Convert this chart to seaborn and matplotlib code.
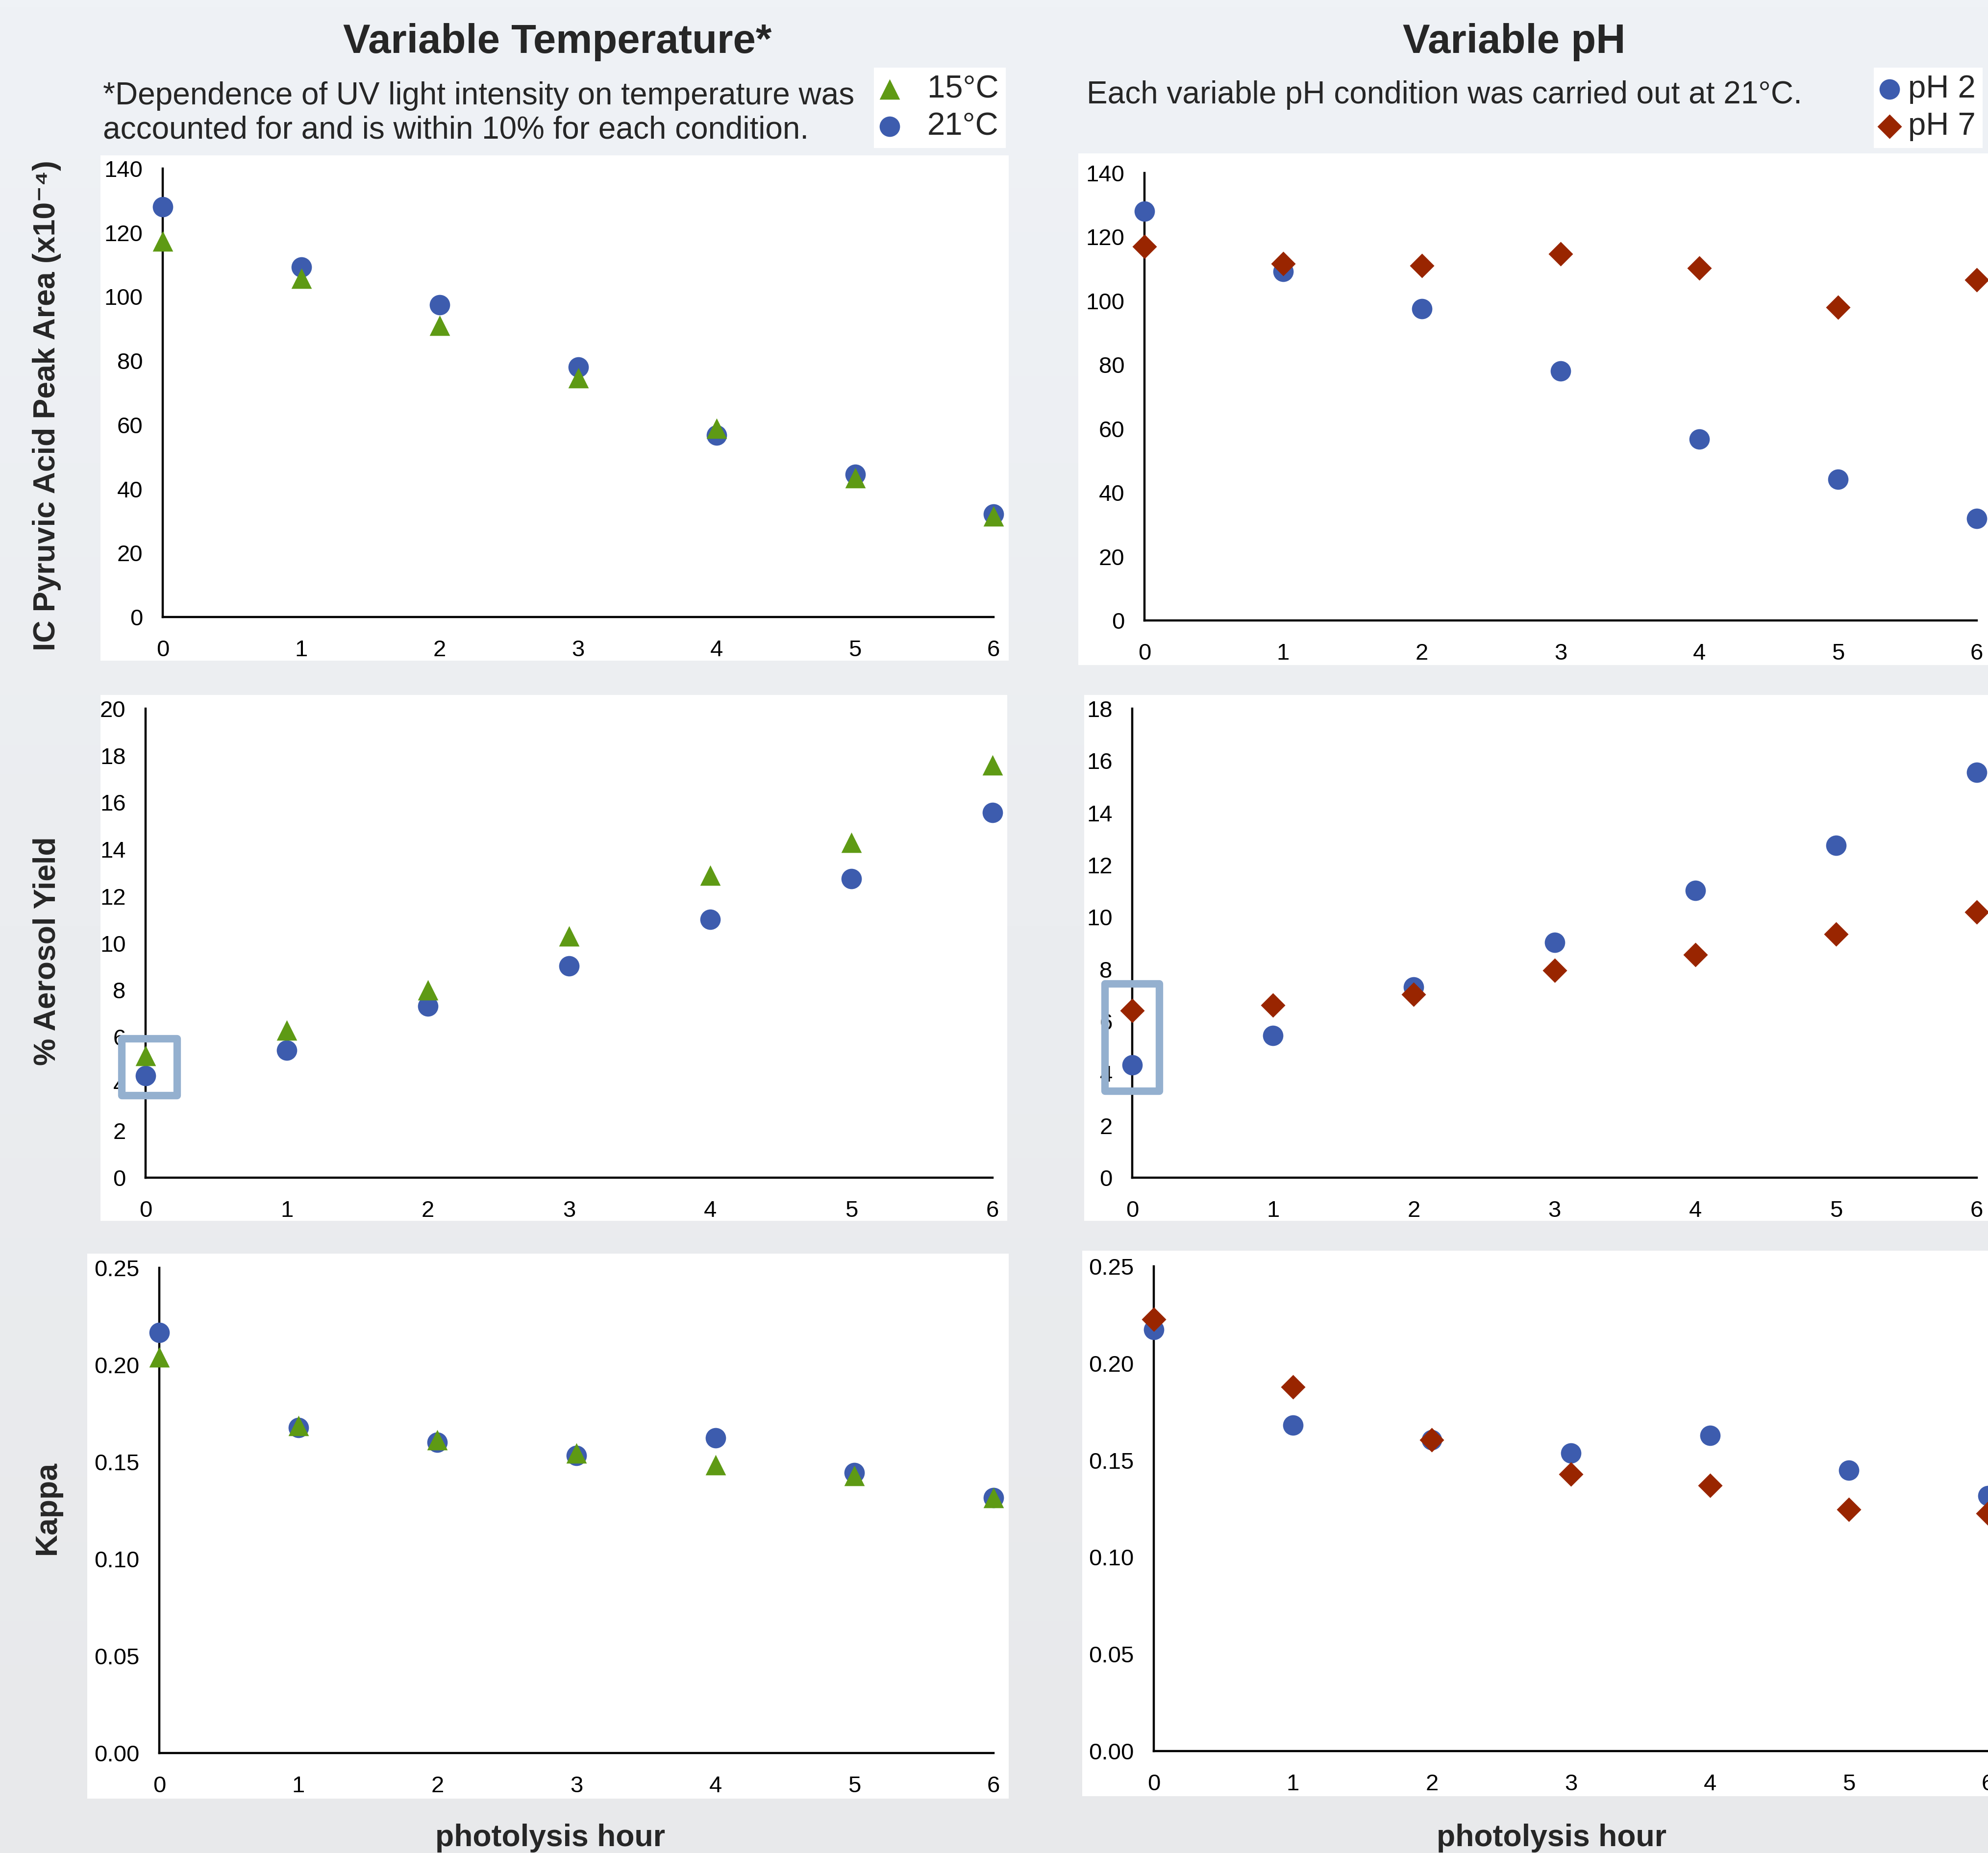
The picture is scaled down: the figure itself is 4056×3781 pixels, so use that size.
import numpy as np
import pandas as pd
import matplotlib.pyplot as plt
import seaborn as sns
from matplotlib.patches import Rectangle
from matplotlib.ticker import FormatStrFormatter, MultipleLocator

# photolysis hours
hours = [0, 1, 2, 3, 4, 5, 6]

# IC pyruvic acid peak area (x10^-4)
pa_15C = [117.4, 105.8, 91.0, 74.7, 58.9, 43.4, 31.5]
pa_21C = [128.0, 109.3, 97.5, 78.0, 56.8, 44.5, 32.2]
pa_pH2 = [128.0, 109.2, 97.6, 78.0, 56.8, 44.2, 31.9]
pa_pH7 = [117.0, 111.7, 111.0, 114.7, 110.3, 98.0, 106.5]

# % aerosol yield
ay_15C = [5.2, 6.3, 8.0, 10.3, 12.9, 14.3, 17.6]
ay_21C = [4.34, 5.44, 7.31, 9.03, 11.02, 12.75, 15.56]
ay_pH2 = [4.32, 5.45, 7.31, 9.03, 11.02, 12.76, 15.55]
ay_pH7 = [6.41, 6.62, 7.03, 7.96, 8.55, 9.34, 10.2]

# kappa
k_15C = [0.204, 0.1688, 0.1613, 0.1546, 0.1486, 0.1429, 0.1315]
k_21C = [0.2167, 0.1677, 0.1601, 0.1532, 0.1625, 0.1444, 0.1315]
k_pH2 = [0.2173, 0.168, 0.1604, 0.1536, 0.1628, 0.1449, 0.1316]
k_pH7 = [0.2228, 0.1879, 0.1604, 0.1427, 0.137, 0.1245, 0.1225]

# highlighted t=0 region in the yield panels (x0, x1, y0, y1)
box_temp = (-0.17, 0.222, 3.51, 5.94)
box_ph = (-0.195, 0.192, 3.33, 7.45)

BLUE = "#3D5CAE"
GREEN = "#5E9A14"
RED = "#992500"

sns.set_theme(style="white")
plt.rcParams["font.family"] = ["Liberation Sans", "DejaVu Sans"]

W, H = 4056, 3781
fig = plt.figure(figsize=(W / 100, H / 100), dpi=100)


def fx(x):
    return x / W


def fy(y):
    return 1 - y / H


# light background
bg = fig.add_axes([0, 0, 1, 1], zorder=-10)
grad = np.linspace(0, 1, 256).reshape(-1, 1)
bg.imshow(grad, aspect="auto", extent=[0, 1, 0, 1],
          cmap=sns.blend_palette(["#EFF2F6", "#EBEDF0", "#E8E9EB"], as_cmap=True))
bg.axis("off")

# white panels behind each plot (pixel boxes)
panels = [(205, 2058, 317, 1348), (2200, 4056, 313, 1357),
          (205, 2055, 1418, 2491), (2212, 4056, 1418, 2491),
          (178, 2058, 2558, 3670), (2208, 4056, 2552, 3665)]
for x0, x1, y0, y1 in panels:
    fig.patches.append(Rectangle((fx(x0), fy(y1)), fx(x1 - x0), (y1 - y0) / H,
                                 transform=fig.transFigure, facecolor="white",
                                 edgecolor="none", zorder=-5))

# axes boxes: x of hour 0, x of hour 6, y of top, y of zero
ax_px = [(332, 2027, 344, 1259), (2335, 4033, 353, 1266),
         (297, 2025, 1446, 2403), (2310, 4033, 1446, 2403),
         (325, 2027, 2587, 3577), (2354, 4056, 2584, 3573)]
axes = []
for x0, x1, y0, y1 in ax_px:
    ax = fig.add_axes([fx(x0), fy(y1), fx(x1 - x0), (y1 - y0) / H])
    ax.set_facecolor("none")
    axes.append(ax)

series = [
    (axes[0], [(pa_21C, "o", BLUE, "21°C"), (pa_15C, "^", GREEN, "15°C")], 140, 20, "%d"),
    (axes[1], [(pa_pH2, "o", BLUE, "pH 2"), (pa_pH7, "D", RED, "pH 7")], 140, 20, "%d"),
    (axes[2], [(ay_21C, "o", BLUE, "21°C"), (ay_15C, "^", GREEN, "15°C")], 20, 2, "%d"),
    (axes[3], [(ay_pH2, "o", BLUE, "pH 2"), (ay_pH7, "D", RED, "pH 7")], 18, 2, "%d"),
    (axes[4], [(k_21C, "o", BLUE, "21°C"), (k_15C, "^", GREEN, "15°C")], 0.25, 0.05, "%.2f"),
    (axes[5], [(k_pH2, "o", BLUE, "pH 2"), (k_pH7, "D", RED, "pH 7")], 0.25, 0.05, "%.2f"),
]
sizes = {"o": 900, "^": 900, "D": 650}

for ax, sets, ytop, ystep, fmt in series:
    for vals, mk, col, lab in sets:
        df = pd.DataFrame({"hour": hours, "value": vals})
        sns.scatterplot(data=df, x="hour", y="value", marker=mk, s=sizes[mk],
                        color=col, linewidth=0, ax=ax, clip_on=False,
                        label=lab, legend=False, zorder=3)
    ax.set_xlim(0, 6)
    ax.set_ylim(0, ytop)
    ax.xaxis.set_major_locator(MultipleLocator(1))
    ax.yaxis.set_major_locator(MultipleLocator(ystep))
    ax.yaxis.set_major_formatter(FormatStrFormatter(fmt))
    ax.set_xlabel("")
    ax.set_ylabel("")
    for side in ["top", "right"]:
        ax.spines[side].set_visible(False)
    for side in ["left", "bottom"]:
        ax.spines[side].set_color("black")
        ax.spines[side].set_linewidth(3.2)
    ax.tick_params(axis="y", length=0, pad=29, labelsize=34, colors="black")
    ax.tick_params(axis="x", length=0, pad=33, labelsize=34, colors="black")

# highlight boxes at t = 0 in the yield panels
for ax, (x0, x1, y0, y1) in [(axes[2], box_temp), (axes[3], box_ph)]:
    ax.add_patch(Rectangle((x0, y0), x1 - x0, y1 - y0, fill=False,
                           edgecolor="#94B0CF", linewidth=11, joinstyle="round",
                           clip_on=False, zorder=5))

# titles and notes
fig.text(fx(1137), fy(86), "Variable Temperature*", fontsize=60, fontweight="bold",
         ha="center", va="center")
fig.text(fx(3089), fy(86), "Variable pH", fontsize=60, fontweight="bold",
         ha="center", va="center")
fig.text(fx(210), fy(231), "*Dependence of UV light intensity on temperature was\n"
         "accounted for and is within 10% for each condition.",
         fontsize=46, ha="left", va="center", linespacing=1.2)
fig.text(fx(2217), fy(194), "Each variable pH condition was carried out at 21°C.",
         fontsize=46, ha="left", va="center")

# legends
leg_kw = dict(loc="upper left", fontsize=47, frameon=True, fancybox=False,
              framealpha=1, facecolor="white", edgecolor="none", borderpad=0.22,
              labelspacing=0.24, handlelength=0.55, borderaxespad=0)
h0, l0 = axes[0].get_legend_handles_labels()
fig.legend([h0[1], h0[0]], [l0[1], l0[0]], bbox_to_anchor=(fx(1783), fy(138)),
           handletextpad=0.9, **leg_kw)
h1, l1 = axes[1].get_legend_handles_labels()
fig.legend(h1, l1, bbox_to_anchor=(fx(3823), fy(138)), handletextpad=0.3, **leg_kw)

# axis titles
fig.text(fx(96), fy(828), "IC Pyruvic Acid Peak Area (x10⁻⁴)", fontsize=45,
         fontweight="bold", rotation=90, ha="center", va="center")
fig.text(fx(96), fy(1941), "% Aerosol Yield", fontsize=45, fontweight="bold",
         rotation=90, ha="center", va="center")
fig.text(fx(96), fy(3076), "Kappa", fontsize=45, fontweight="bold",
         rotation=90, ha="center", va="center")
fig.text(fx(1123), fy(3751), "photolysis hour", fontsize=45, fontweight="bold",
         ha="center", va="center")
fig.text(fx(3166), fy(3751), "photolysis hour", fontsize=45, fontweight="bold",
         ha="center", va="center")

fig.savefig("out.png", dpi=100)
